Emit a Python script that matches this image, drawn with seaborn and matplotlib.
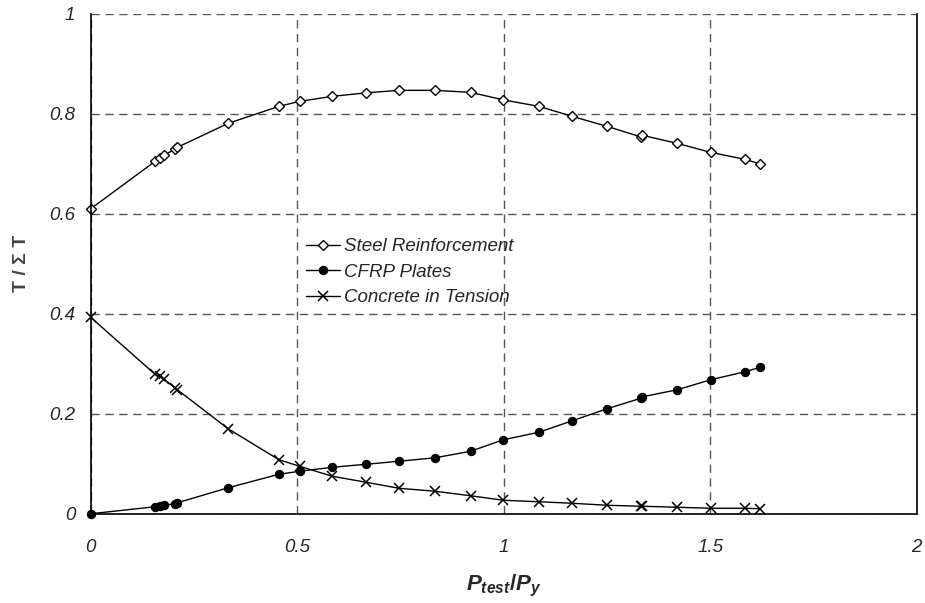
import pandas as pd
import matplotlib
matplotlib.use("Agg")
import matplotlib.pyplot as plt
import seaborn as sns

# load ratio P_test/P_y
x_load = [0.0, 0.156, 0.168, 0.178, 0.205, 0.210, 0.333, 0.456, 0.506, 0.585, 0.667, 0.746,
          0.834, 0.920, 0.999, 1.085, 1.166, 1.250, 1.332, 1.336, 1.420, 1.501, 1.584, 1.621]
steel = [0.610, 0.705, 0.711, 0.717, 0.730, 0.733, 0.781, 0.815, 0.825, 0.835, 0.842, 0.847,
         0.847, 0.843, 0.828, 0.815, 0.795, 0.775, 0.754, 0.757, 0.741, 0.723, 0.709, 0.700]
cfrp = [0.000, 0.014, 0.016, 0.017, 0.020, 0.022, 0.052, 0.079, 0.085, 0.093, 0.099, 0.105,
        0.112, 0.125, 0.148, 0.163, 0.186, 0.210, 0.231, 0.234, 0.248, 0.268, 0.284, 0.293]
concrete = [0.393, 0.279, 0.275, 0.269, 0.251, 0.248, 0.170, 0.108, 0.095, 0.075, 0.063, 0.051,
            0.045, 0.036, 0.027, 0.024, 0.021, 0.017, 0.015, 0.015, 0.013, 0.011, 0.011, 0.010]

df = pd.DataFrame({"x": x_load, "steel": steel, "cfrp": cfrp, "concrete": concrete})

sns.set_style("white")
plt.rcParams["font.family"] = ["Liberation Sans", "DejaVu Sans"]
plt.rcParams["mathtext.fontset"] = "custom"
plt.rcParams["mathtext.it"] = "Liberation Sans:italic:bold"
plt.rcParams["mathtext.rm"] = "Liberation Sans:bold"

fig = plt.figure(figsize=(9.25, 6.03), dpi=100)
ax = fig.add_axes([0.098, 0.148, 0.893, 0.829])

sns.lineplot(data=df, x="x", y="steel", ax=ax, color="black", lw=1, marker="D",
             markersize=5, markerfacecolor="white", markeredgecolor="black",
             markeredgewidth=1, estimator=None, sort=False, clip_on=False,
             label="Steel Reinforcement")
sns.lineplot(data=df, x="x", y="cfrp", ax=ax, color="black", lw=1, marker="o",
             markersize=6, markerfacecolor="black", markeredgecolor="black",
             estimator=None, sort=False, clip_on=False, label="CFRP Plates")
sns.lineplot(data=df, x="x", y="concrete", ax=ax, color="black", lw=1, marker="x",
             markersize=7, markeredgewidth=1.1, markeredgecolor="black",
             estimator=None, sort=False, clip_on=False, label="Concrete in Tension")

ax.set_xlim(0, 2)
ax.set_ylim(0, 1)
ax.set_xticks([0, 0.5, 1, 1.5, 2])
ax.set_xticklabels(["0", "0.5", "1", "1.5", "2"])
ax.set_yticks([0, 0.2, 0.4, 0.6, 0.8, 1])
ax.set_yticklabels(["0", "0.2", "0.4", "0.6", "0.8", "1"])
for lab in ax.get_xticklabels() + ax.get_yticklabels():
    lab.set_fontstyle("italic")
    lab.set_fontsize(13.5)
ax.tick_params(axis="both", direction="out", length=5, width=1, color="black", pad=6)
ax.tick_params(axis="x", pad=13)

ax.grid(True, color="#555555", linestyle=(0, (6, 4)), lw=1)
ax.set_axisbelow(True)
for side in ["left", "bottom", "right"]:
    ax.spines[side].set_color("black")
    ax.spines[side].set_linewidth(1.2)
ax.spines["top"].set_visible(False)

ax.set_xlabel(r"$P_{test}/P_y$", fontsize=16, labelpad=12)
ax.set_ylabel("T / Σ T", fontsize=14, fontweight="bold", color="#444444", labelpad=14)

leg = ax.legend(loc="upper left", bbox_to_anchor=(0.24, 0.585), frameon=False,
                handlelength=1.8, handletextpad=0.25, labelspacing=0.45,
                prop={"style": "italic", "size": 13.5})

fig.savefig("out.png", dpi=100)
